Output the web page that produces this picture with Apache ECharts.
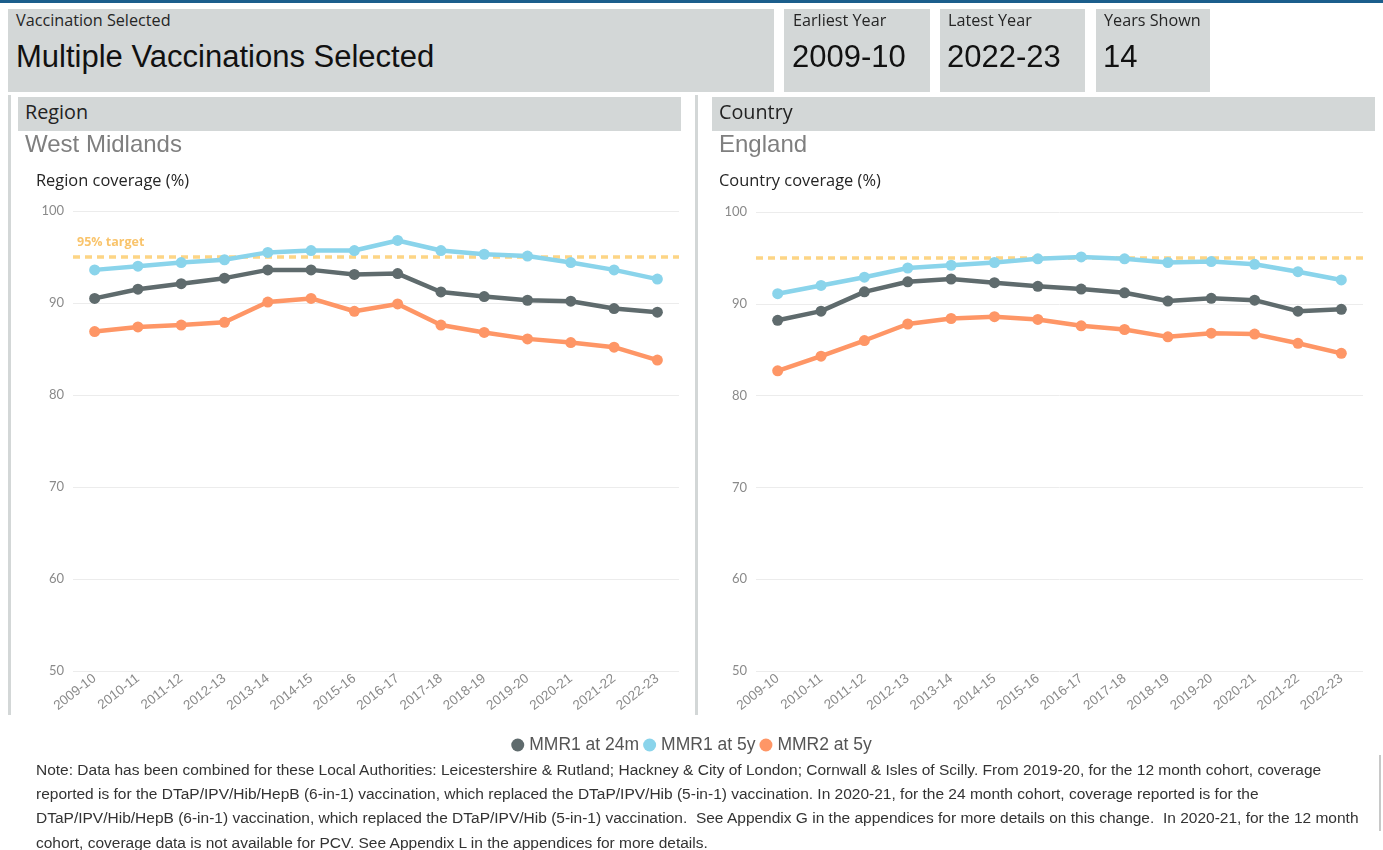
<!DOCTYPE html>
<html>
<head>
<meta charset="utf-8">
<script src="https://cdn.jsdelivr.net/npm/echarts@6/dist/echarts.min.js"></script>
<style>
  html, body { margin:0; padding:0; background:#fff; }
  body { width:1383px; height:850px; position:relative; overflow:hidden; }
  #chart { position:absolute; left:0; top:0; width:1383px; height:850px; }
  .ov { position:absolute; pointer-events:none; }
  .box { background:#d3d7d7; }
  .lab { font-family:"Open Sans", sans-serif; font-size:16.2px; color:#252525; white-space:nowrap; line-height:1; }
  .big { font-family:"Liberation Sans", Arial, sans-serif; font-size:31px; color:#111; white-space:nowrap; line-height:1; }
  .sect { font-family:"Open Sans", sans-serif; font-size:19.8px; color:#222; white-space:nowrap; line-height:1; }
  .place { font-family:"Liberation Sans", Arial, sans-serif; font-size:24px; color:#7f7f7f; white-space:nowrap; line-height:1; }
  .cov { font-family:"Open Sans", sans-serif; font-size:16.4px; color:#252525; white-space:nowrap; line-height:1; }
  .note { font-family:"Liberation Sans", Arial, sans-serif; font-size:15.5px; color:#333; white-space:pre; line-height:24.2px; }
</style>
</head>
<body>
<div id="chart"></div>

<div class="ov" style="left:0;top:0;width:1383px;height:3px;background:#1b5e8c;"></div>

<div class="ov box" style="left:8px;top:9px;width:766px;height:83px;"></div>
<div class="ov lab" style="left:16px;top:12px;">Vaccination Selected</div>
<div class="ov big" style="left:16px;top:41px;">Multiple Vaccinations Selected</div>

<div class="ov box" style="left:784px;top:9px;width:146px;height:83px;"></div>
<div class="ov lab" style="left:793px;top:12px;">Earliest Year</div>
<div class="ov big" style="left:792px;top:41px;">2009-10</div>

<div class="ov box" style="left:940px;top:9px;width:145px;height:83px;"></div>
<div class="ov lab" style="left:948px;top:12px;">Latest Year</div>
<div class="ov big" style="left:947px;top:41px;">2022-23</div>

<div class="ov box" style="left:1096px;top:9px;width:114px;height:83px;"></div>
<div class="ov lab" style="left:1104px;top:12px;">Years Shown</div>
<div class="ov big" style="left:1103px;top:41px;">14</div>

<div class="ov" style="left:8px;top:95px;width:3px;height:620px;background:#d3d7d7;"></div>
<div class="ov" style="left:695px;top:95px;width:3px;height:620px;background:#d3d7d7;"></div>
<div class="ov" style="left:1379px;top:755px;width:2px;height:76px;background:#c8c8c8;"></div>

<div class="ov box" style="left:18px;top:97px;width:663px;height:34px;"></div>
<div class="ov sect" style="left:25px;top:102px;">Region</div>
<div class="ov place" style="left:25px;top:132px;">West Midlands</div>
<div class="ov cov" style="left:36px;top:172px;">Region coverage (%)</div>

<div class="ov box" style="left:712px;top:97px;width:663px;height:34px;"></div>
<div class="ov sect" style="left:719px;top:102px;">Country</div>
<div class="ov place" style="left:719px;top:132px;">England</div>
<div class="ov cov" style="left:719px;top:172px;">Country coverage (%)</div>

<div class="ov note" style="left:36px;top:758px;">Note: Data has been combined for these Local Authorities: Leicestershire &amp; Rutland; Hackney &amp; City of London; Cornwall &amp; Isles of Scilly. From 2019-20, for the 12 month cohort, coverage
reported is for the DTaP/IPV/Hib/HepB (6-in-1) vaccination, which replaced the DTaP/IPV/Hib (5-in-1) vaccination. In 2020-21, for the 24 month cohort, coverage reported is for the
DTaP/IPV/Hib/HepB (6-in-1) vaccination, which replaced the DTaP/IPV/Hib (5-in-1) vaccination.  See Appendix G in the appendices for more details on this change.  In 2020-21, for the 12 month
cohort, coverage data is not available for PCV. See Appendix L in the appendices for more details.</div>

<script>
// ---- data ----
const years = ["2009-10","2010-11","2011-12","2012-13","2013-14","2014-15","2015-16","2016-17","2017-18","2018-19","2019-20","2020-21","2021-22","2022-23"];
const seriesNames = ["MMR1 at 24m","MMR1 at 5y","MMR2 at 5y"];
const yTicks = [50, 60, 70, 80, 90, 100];
const targetValue = 95;
const targetLabel = "95% target";

const regionMMR1at24m = [90.5, 91.5, 92.1, 92.7, 93.6, 93.6, 93.1, 93.2, 91.2, 90.7, 90.3, 90.2, 89.4, 89.0];
const regionMMR1at5y  = [93.6, 94.0, 94.4, 94.7, 95.5, 95.7, 95.7, 96.8, 95.7, 95.3, 95.1, 94.4, 93.6, 92.6];
const regionMMR2at5y  = [86.9, 87.4, 87.6, 87.9, 90.1, 90.5, 89.1, 89.9, 87.6, 86.8, 86.1, 85.7, 85.2, 83.8];

const countryMMR1at24m = [88.2, 89.2, 91.3, 92.4, 92.7, 92.3, 91.9, 91.6, 91.2, 90.3, 90.6, 90.4, 89.2, 89.4];
const countryMMR1at5y  = [91.1, 92.0, 92.9, 93.9, 94.2, 94.5, 94.9, 95.1, 94.9, 94.5, 94.6, 94.3, 93.5, 92.6];
const countryMMR2at5y  = [82.7, 84.3, 86.0, 87.8, 88.4, 88.6, 88.3, 87.6, 87.2, 86.4, 86.8, 86.7, 85.7, 84.6];

// ---- styling ----
const colors = ["#5F6B6D", "#8AD4EB", "#FE9666"];
const targetColor = "#FDD585";

const chart = echarts.init(document.getElementById('chart'), null, {renderer:'canvas'});

function xAxisCfg(gi){
  return {
    type:'category', gridIndex:gi, data:years, boundaryGap:true,
    axisLine:{show:false}, axisTick:{show:false},
    axisLabel:{rotate:38, color:'#8a8a8a', fontSize:13.5, margin:6, interval:0,
      fontFamily:'"Liberation Sans", Arial, sans-serif'}
  };
}
function yAxisCfg(gi){
  return {
    type:'value', gridIndex:gi, min:yTicks[0], max:yTicks[yTicks.length-1], interval:10,
    axisLine:{show:false}, axisTick:{show:false},
    splitLine:{lineStyle:{color:'#ececec', width:1}},
    axisLabel:{color:'#8a8a8a', fontSize:13, margin:9, fontFamily:'Lato, sans-serif'}
  };
}
function lineSeries(name, data, gi, color, withTarget, showTargetLabel){
  const s = {
    name:name, type:'line', xAxisIndex:gi, yAxisIndex:gi, data:data,
    symbol:'circle', symbolSize:11, showSymbol:true,
    itemStyle:{color:color}, lineStyle:{color:color, width:4.5},
    emphasis:{disabled:true}, z:3
  };
  if (withTarget){
    s.markLine = {
      silent:true, symbol:['none','none'],
      lineStyle:{color:targetColor, width:3.5, type:[7,5]},
      label:{show:showTargetLabel, position:'insideStartTop', formatter:targetLabel,
        color:'#F9C46C', fontSize:12.5, fontWeight:'bold', distance:[4,8],
        fontFamily:'"Open Sans", sans-serif'},
      data:[{yAxis:targetValue}],
      z:2
    };
  }
  return s;
}

const option = {
  animation:false,
  backgroundColor:'transparent',
  grid:[
    {left:73, top:211, width:606, height:460},
    {left:756, top:212, width:607, height:459}
  ],
  xAxis:[xAxisCfg(0), xAxisCfg(1)],
  yAxis:[yAxisCfg(0), yAxisCfg(1)],
  legend:{
    data:seriesNames, top:731, left:'center',
    icon:'circle', itemWidth:13, itemHeight:13, itemGap:4,
    textStyle:{color:'#555', fontSize:17.5, fontFamily:'"Liberation Sans", Arial, sans-serif'},
    selectedMode:false
  },
  series:[
    lineSeries(seriesNames[0], regionMMR1at24m, 0, colors[0], true, true),
    lineSeries(seriesNames[1], regionMMR1at5y, 0, colors[1], false, false),
    lineSeries(seriesNames[2], regionMMR2at5y, 0, colors[2], false, false),
    lineSeries(seriesNames[0], countryMMR1at24m, 1, colors[0], true, false),
    lineSeries(seriesNames[1], countryMMR1at5y, 1, colors[1], false, false),
    lineSeries(seriesNames[2], countryMMR2at5y, 1, colors[2], false, false)
  ]
};
chart.setOption(option);
</script>
</body>
</html>
